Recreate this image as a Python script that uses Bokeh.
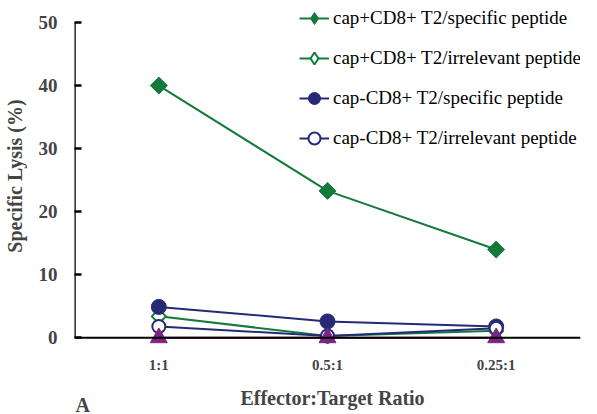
import math
from bokeh.plotting import figure
from bokeh.layouts import column
from bokeh.models import Range1d, FixedTicker, Legend, LegendItem, Arrow, Label
from bokeh.embed import file_html
from bokeh.resources import INLINE

# ---- data ----
ratios = ["1:1", "0.5:1", "0.25:1"]
x_pos = [1, 2, 3]
cap_pos_specific = [40.0, 23.3, 14.0]
cap_pos_irrelevant = [3.4, 0.3, 1.1]
cap_neg_specific = [4.9, 2.6, 1.8]
cap_neg_irrelevant = [1.8, 0.3, 1.5]
control = [0.0, 0.0, 0.0]
y_ticks = [0, 10, 20, 30, 40, 50]

GREEN = "#137a3c"
NAVY = "#262a75"
PURPLE = "#7b2782"
FONT = "Liberation Serif"

X_LO, X_HI = 0.5, 3.5
Y_BASE, Y_TOP = 0, 50

p = figure(width=581, height=385, output_backend="svg", toolbar_location=None,
           x_range=Range1d(X_LO, X_HI), y_range=Range1d(-1.22, 52.54),
           min_border_left=73, min_border_right=1, min_border_top=6, min_border_bottom=40)
p.outline_line_color = None
p.xgrid.visible = False
p.ygrid.visible = False
p.background_fill_color = "white"

# y axis
ya = p.yaxis[0]
ya.ticker = FixedTicker(ticks=y_ticks)
ya.minor_tick_line_color = None
ya.major_tick_in = 7
ya.major_tick_out = 0
ya.major_tick_line_width = 2.5
ya.axis_line_color = None
ya.major_label_text_font = FONT
ya.major_label_text_font_style = "bold"
ya.major_label_text_font_size = "19px"
ya.major_label_standoff = 17
ya.axis_label = "Specific Lysis (%)"
ya.axis_label_text_font = FONT
ya.axis_label_text_font_style = "bold"
ya.axis_label_text_font_size = "20px"
ya.axis_label_standoff = 10

# x axis (tick labels; its title is set in the strip below)
xa = p.xaxis[0]
xa.ticker = FixedTicker(ticks=x_pos)
xa.major_label_overrides = {x: r for x, r in zip(x_pos, ratios)}
xa.major_tick_line_color = None
xa.minor_tick_line_color = None
xa.axis_line_color = None
xa.major_label_text_font = FONT
xa.major_label_text_font_style = "bold"
xa.major_label_text_font_size = "15px"
xa.major_label_standoff = 5

# axis lines meeting at the origin
p.add_layout(Arrow(end=None, x_start=X_LO, y_start=Y_BASE, x_end=X_LO, y_end=Y_TOP,
                   line_color="black", line_width=2.5))
p.add_layout(Arrow(end=None, x_start=X_LO, y_start=Y_BASE, x_end=X_HI, y_end=Y_BASE,
                   line_color="black", line_width=2))

items = []

# diamond proxies (hidden under the rotated squares) give diamond shapes in the legend
d1 = p.scatter(x_pos, cap_pos_specific, marker="diamond", size=10, fill_color=GREEN, line_color=GREEN)
d2 = p.scatter(x_pos, cap_pos_irrelevant, marker="diamond", size=6, fill_color="white",
               line_color=GREEN, line_width=2)

l1 = p.line(x_pos, cap_pos_specific, line_color=GREEN, line_width=2)
s1 = p.scatter(x_pos, cap_pos_specific, marker="square", angle=math.pi / 4, size=12,
               fill_color=GREEN, line_color=GREEN)
items.append(LegendItem(label="cap+CD8+ T2/specific peptide", renderers=[l1, d1]))

l2 = p.line(x_pos, cap_pos_irrelevant, line_color=GREEN, line_width=2)
s2 = p.scatter(x_pos, cap_pos_irrelevant, marker="square", angle=math.pi / 4, size=10,
               fill_color="white", line_color=GREEN, line_width=2)
items.append(LegendItem(label="cap+CD8+ T2/irrelevant peptide", renderers=[l2, d2]))

l3 = p.line(x_pos, cap_neg_specific, line_color=NAVY, line_width=2)
s3 = p.scatter(x_pos, cap_neg_specific, marker="circle", size=15,
               fill_color=NAVY, line_color=NAVY)
items.append(LegendItem(label="cap-CD8+ T2/specific peptide", renderers=[l3, s3]))

l4 = p.line(x_pos, cap_neg_irrelevant, line_color=NAVY, line_width=2)
s4 = p.scatter(x_pos, cap_neg_irrelevant, marker="circle", size=13,
               fill_color="white", line_color=NAVY, line_width=2)
items.append(LegendItem(label="cap-CD8+ T2/irrelevant peptide", renderers=[l4, s4]))

p.line(x_pos, control, line_color=PURPLE, line_width=2)
p.scatter(x_pos, control, marker="triangle", size=17, fill_color=PURPLE, line_color=PURPLE)

legend = Legend(items=items, location=(225, 192), orientation="vertical",
                border_line_color=None, background_fill_alpha=0,
                padding=0, margin=0, spacing=10, glyph_height=30, glyph_width=30,
                label_height=30, label_standoff=4,
                label_text_font=FONT, label_text_font_style="normal",
                label_text_font_size="19px", label_text_color="black")
p.add_layout(legend, "center")

# strip below the chart: x-axis title and panel letter
strip = figure(width=581, height=29, output_backend="svg", toolbar_location=None,
               x_range=Range1d(0, 1), y_range=Range1d(0, 1),
               x_axis_type=None, y_axis_type=None, min_border=0)
strip.outline_line_color = None
strip.xgrid.visible = False
strip.ygrid.visible = False
strip.add_layout(Label(x=258, y=17, x_units="screen", y_units="screen",
                       text="Effector:Target Ratio", text_font=FONT, text_font_style="bold",
                       text_font_size="20px", text_align="center", text_baseline="middle"))
strip.add_layout(Label(x=1, y=10, x_units="screen", y_units="screen",
                       text="A", text_font=FONT, text_font_style="bold",
                       text_font_size="20px", text_align="left", text_baseline="middle"))

layout = column(p, strip, spacing=0)
open("out.html", "w").write(file_html(layout, INLINE))
